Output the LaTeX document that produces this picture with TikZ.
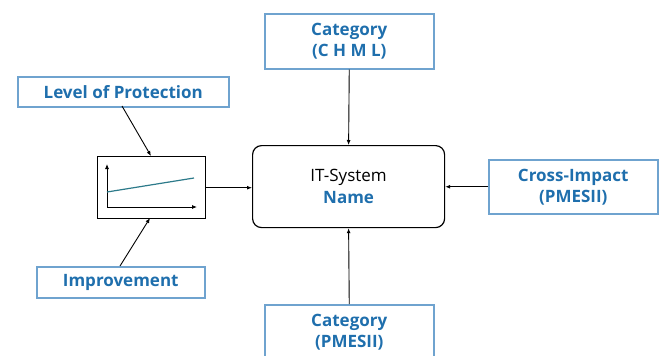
\documentclass[tikz,border=0pt]{standalone}
\usepackage{fontspec}
\setmainfont{Open Sans}
\usetikzlibrary{arrows.meta}
\definecolor{boxblue}{HTML}{6FA3CF}
\definecolor{txtblue}{HTML}{1F6FAD}
\definecolor{linet}{HTML}{2C7A8A}
\tikzset{
  x=1pt,y=-1pt,
  lbox/.style={draw=boxblue,line width=1.5pt,text=txtblue,font=\fontsize{17}{21}\selectfont\bfseries,align=center,inner sep=0pt,anchor=north west},
  conn/.style={-{Latex[length=5pt,width=4pt]},line width=0.9pt},
}
\begin{document}
\begin{tikzpicture}
\useasboundingbox (0,0) rectangle (662,356);
\begin{scope}
\clip (0,0) rectangle (662,356);
\node[lbox,minimum width=169pt,minimum height=55pt] (chml) at (264,13) {Category\\(C H M L)};
\node[lbox,minimum width=169pt,minimum height=55pt] (pmes) at (264,304) {Category\\(PMESII)};
\node[lbox,minimum width=169pt,minimum height=54pt] (cross) at (488,159) {Cross-Impact\\(PMESII)};
\node[lbox,minimum width=211pt,minimum height=30pt] (lop) at (17,76) {Level of Protection};
\node[lbox,minimum width=168pt,minimum height=31pt] (imp) at (36,266) {Improvement};
\node[draw,rounded corners=9pt,line width=1.2pt,minimum width=192pt,minimum height=82pt,inner sep=0pt,anchor=north west,align=center,font=\fontsize{17}{22}\selectfont] (main) at (252,145) {IT-System\\\textcolor{txtblue}{\bfseries Name}};
\node[draw,line width=1.4pt,minimum width=108pt,minimum height=62pt,inner sep=0pt,anchor=north west] (chart) at (97,156) {};
\coordinate (o) at (107,207);
\coordinate (ya) at (107,164);
\coordinate (xa) at (197,207);
\draw[-{Latex[length=5pt,width=4pt]},line width=0.8pt] (o) -- (ya);
\draw[-{Latex[length=5pt,width=4pt]},line width=0.8pt] (o) -- (xa);
\coordinate (l1) at (107,192);
\coordinate (l2) at (194,178);
\draw[linet,line width=1.2pt] (l1) -- (l2);
\draw[conn] (chml.south) -- (main.north);
\draw[conn] (pmes.north) -- (main.south);
\draw[conn] (cross.west) -- (main.east |- cross.west);
\draw[conn] (chart.east) -- (main.west |- chart.east);
\coordinate (lops) at (122,106);
\coordinate (lope) at (151,156);
\coordinate (imps) at (120,266);
\coordinate (impe) at (150,218);
\draw[conn] (lops) -- (lope);
\draw[conn] (imps) -- (impe);
\end{scope}
\end{tikzpicture}
\end{document}
